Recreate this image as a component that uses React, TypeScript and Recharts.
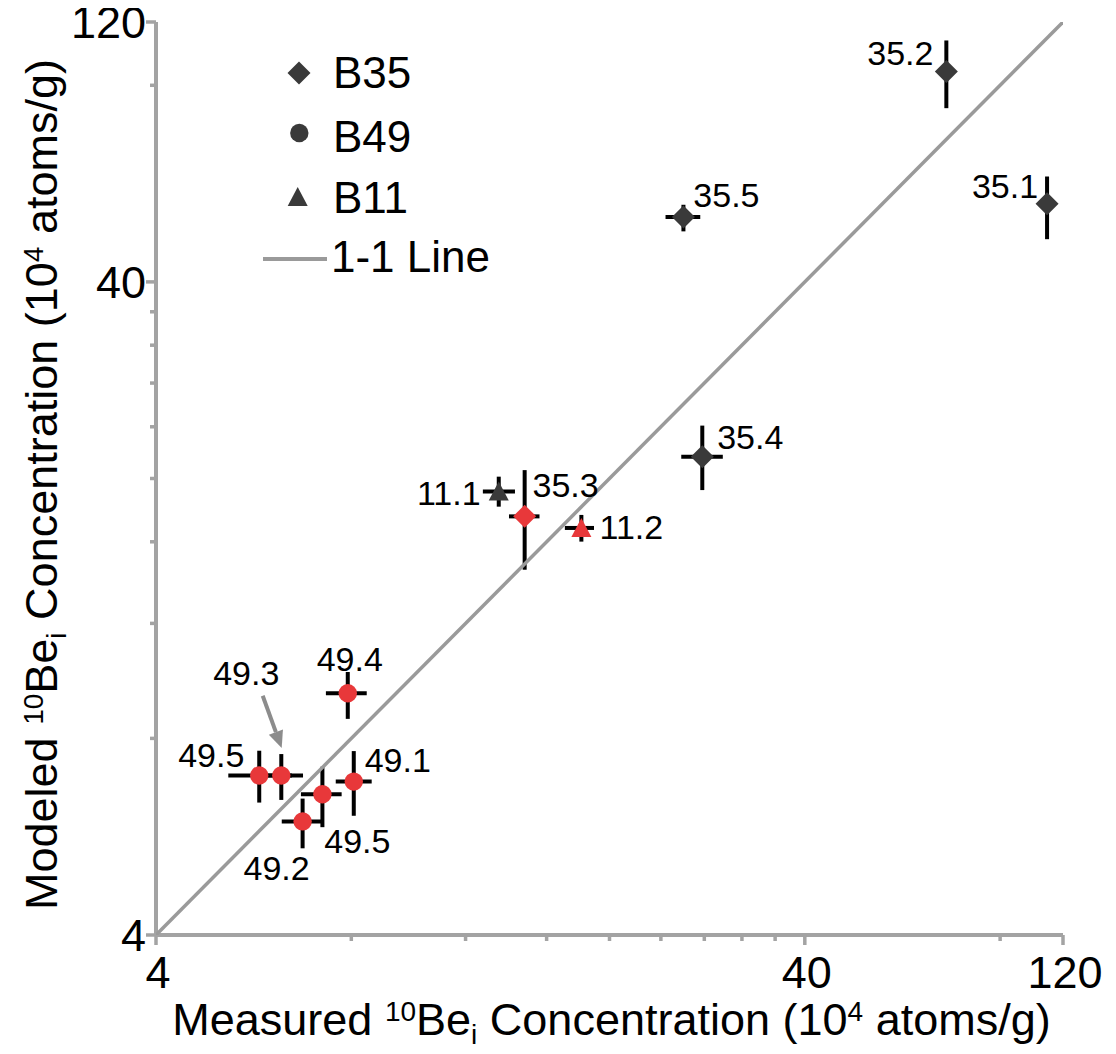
import React from "react";
import { ScatterChart, Scatter, XAxis, YAxis, ErrorBar, Legend, Label } from "recharts";

const FONT = '"Liberation Sans", Arial, Helvetica, sans-serif';
const DARK = "#3a3a3a";
const RED = "#e8383a";
const AXIS_GRAY = "#a3a3a3";
const LINE_GRAY = "#9a9a9a";

// B35 (diamonds)
const b35Labels = ["35.1", "35.2", "35.3", "35.4", "35.5"];
const b35Measured = [94.5, 66.1, 14.8, 27.8, 26.0];
const b35MeasuredLo = [92.6, 64.8, 14.0, 25.8, 24.4];
const b35MeasuredHi = [96.4, 67.4, 15.6, 29.9, 27.6];
const b35Modeled = [52.7, 84.0, 17.5, 21.6, 50.3];
const b35ModeledLo = [46.5, 73.8, 14.5, 19.2, 47.8];
const b35ModeledHi = [58.0, 93.7, 20.6, 24.1, 52.5];
const b35Highlight = [false, false, true, false, false];

// B49 (circles)
const b49Labels = ["49.1", "49.2", "49.3", "49.4", "49.5", "49.5"];
const b49Measured = [8.07, 6.73, 6.24, 7.9, 5.77, 7.22];
const b49MeasuredLo = [7.57, 6.25, 5.79, 7.31, 5.17, 6.69];
const b49MeasuredHi = [8.6, 7.26, 6.74, 8.45, 6.48, 7.73];
const b49Modeled = [6.87, 5.97, 7.02, 9.38, 7.02, 6.57];
const b49ModeledLo = [6.09, 5.43, 6.44, 8.57, 6.38, 5.85];
const b49ModeledHi = [7.65, 6.47, 7.57, 10.11, 7.66, 7.24];
const b49Highlight = [true, true, true, true, true, true];

// B11 (triangles)
const b11Labels = ["11.1", "11.2"];
const b11Measured = [13.5, 18.1];
const b11MeasuredLo = [12.76, 17.07];
const b11MeasuredHi = [14.3, 18.93];
const b11Modeled = [19.1, 16.8];
const b11ModeledLo = [18.11, 16.01];
const b11ModeledHi = [20.13, 17.59];
const b11Highlight = [false, true];

// 1-1 line end points
const oneToOne = [4, 100];

// axis ticks (log scale, Excel style minor ticks)
const axisTicks = [4, 8, 12, 16, 20, 24, 28, 32, 36, 40, 80, 100];
const majorTicks = [4, 40, 100];
const tickText: Record<number, string> = { 4: "4", 40: "40", 100: "120" };

// label placement: text centre relative to the point
const labelOffset: Record<string, [number, number]> = {
  "B35-0": [-42, -18],
  "B35-1": [-46, -19],
  "B35-2": [41, -32],
  "B35-3": [48, -20],
  "B35-4": [43, -22],
  "B49-0": [44, -22],
  "B49-1": [-26, 46],
  "B49-2": [-35, -103],
  "B49-3": [2, -34],
  "B49-4": [-48, -21],
  "B49-5": [35, 47],
  "B11-0": [-50, 1],
  "B11-1": [50, -1],
};
// pointer arrow for crowded label: start dx, dy -> tip dx, dy
const labelArrow: Record<string, [number, number, number, number]> = {
  "B49-2": [-18.6, -79.7, 0.4, -27.4],
};

type Row = {
  x: number;
  y: number;
  xErr: [number, number];
  yErr: [number, number];
  label: string;
  highlight: boolean;
  key: string;
};

const buildRows = (
  group: string,
  labels: string[],
  mx: number[],
  mxLo: number[],
  mxHi: number[],
  my: number[],
  myLo: number[],
  myHi: number[],
  hl: boolean[]
): Row[] =>
  labels.map((label, i) => ({
    x: mx[i],
    y: my[i],
    xErr: [mx[i] - mxLo[i], mxHi[i] - mx[i]],
    yErr: [my[i] - myLo[i], myHi[i] - my[i]],
    label,
    highlight: hl[i],
    key: `${group}-${i}`,
  }));

const b35Rows = buildRows("B35", b35Labels, b35Measured, b35MeasuredLo, b35MeasuredHi, b35Modeled, b35ModeledLo, b35ModeledHi, b35Highlight);
const b49Rows = buildRows("B49", b49Labels, b49Measured, b49MeasuredLo, b49MeasuredHi, b49Modeled, b49ModeledLo, b49ModeledHi, b49Highlight);
const b11Rows = buildRows("B11", b11Labels, b11Measured, b11MeasuredLo, b11MeasuredHi, b11Modeled, b11ModeledLo, b11ModeledHi, b11Highlight);
const lineRows = oneToOne.map((v) => ({ x: v, y: v }));

type Kind = "diamond" | "circle" | "triangle";

const Marker = ({ kind, cx, cy, fill }: { kind: Kind; cx: number; cy: number; fill: string }) => {
  if (kind === "diamond") {
    const h = 11.5;
    return <polygon points={`${cx},${cy - h} ${cx + h},${cy} ${cx},${cy + h} ${cx - h},${cy}`} fill={fill} />;
  }
  if (kind === "circle") return <circle cx={cx} cy={cy} r={9.2} fill={fill} />;
  return <polygon points={`${cx},${cy - 10} ${cx + 10},${cy + 9} ${cx - 10},${cy + 9}`} fill={fill} />;
};

const LABEL_SIZE = 34;

const makeShape = (kind: Kind) => (props: any) => {
  const { cx, cy, payload } = props;
  if (cx == null || cy == null) return <g />;
  const row = payload as Row;
  const off = labelOffset[row.key] || [0, -30];
  const arrow = labelArrow[row.key];
  let arrowEl = null;
  if (arrow) {
    const [sx, sy, ex, ey] = arrow;
    const dx = ex - sx;
    const dy = ey - sy;
    const len = Math.sqrt(dx * dx + dy * dy);
    const ux = dx / len;
    const uy = dy / len;
    const head = 17;
    const hw = 7.5;
    const bx = cx + ex - ux * head;
    const by = cy + ey - uy * head;
    arrowEl = (
      <g>
        <line x1={cx + sx} y1={cy + sy} x2={bx} y2={by} stroke="#8c8c8c" strokeWidth={4} />
        <polygon
          points={`${cx + ex},${cy + ey} ${bx - uy * hw},${by + ux * hw} ${bx + uy * hw},${by - ux * hw}`}
          fill="#8c8c8c"
        />
      </g>
    );
  }
  return (
    <g>
      <Marker kind={kind} cx={cx} cy={cy} fill={row.highlight ? RED : DARK} />
      {arrowEl}
      <text
        x={cx + off[0]}
        y={cy + off[1] + LABEL_SIZE * 0.358}
        textAnchor="middle"
        fontSize={LABEL_SIZE}
        fontFamily={FONT}
        fill="#000"
      >
        {row.label}
      </text>
    </g>
  );
};

const noShape = () => <g />;

const XTick = (props: any) => {
  const { x, y, payload } = props;
  const v = payload.value;
  const major = majorTicks.includes(v);
  return (
    <g>
      <line x1={x} x2={x} y1={y} y2={y + (major ? 10 : 6)} stroke={AXIS_GRAY} strokeWidth={3.5} />
      {major && (
        <text x={x + 2} y={y + 53} textAnchor="middle" fontSize={45} fontFamily={FONT} fill="#000">
          {tickText[v]}
        </text>
      )}
    </g>
  );
};

const YTick = (props: any) => {
  const { x, y, payload } = props;
  const v = payload.value;
  const major = majorTicks.includes(v);
  return (
    <g>
      <line x1={x - (major ? 10 : 6)} x2={x} y1={y} y2={y} stroke={AXIS_GRAY} strokeWidth={3.5} />
      {major && (
        <text x={x - 10} y={y + 16} textAnchor="end" fontSize={45} fontFamily={FONT} fill="#000">
          {tickText[v]}
        </text>
      )}
    </g>
  );
};

const TitleText = ({ head }: { head: string }) => (
  <>
    <tspan>{head} </tspan>
    <tspan fontSize={28} dy={-14}>10</tspan>
    <tspan dy={14}>Be</tspan>
    <tspan fontSize={28} dy={9}>i</tspan>
    <tspan dy={-9}> Concentration (10</tspan>
    <tspan fontSize={28} dy={-14}>4</tspan>
    <tspan dy={14}> atoms/g)</tspan>
  </>
);

const TITLE_SIZE = 45;

const XTitle = (props: any) => {
  const vb = props.viewBox || { x: 148, y: 927, width: 907, height: 119 };
  return (
    <text
      x={vb.x + vb.width / 2 + 2}
      y={vb.y + 100}
      textAnchor="middle"
      fontSize={TITLE_SIZE}
      fontFamily={FONT}
      fill="#000"
    >
      <TitleText head="Measured" />
    </text>
  );
};

const YTitle = (props: any) => {
  const vb = props.viewBox || { x: 0, y: 14, width: 148, height: 913 };
  const cy = vb.y + vb.height / 2 + 6;
  return (
    <text
      transform={`translate(49,${cy}) rotate(-90)`}
      textAnchor="middle"
      fontSize={TITLE_SIZE}
      fontFamily={FONT}
      fill="#000"
    >
      <TitleText head="Modeled" />
    </text>
  );
};

const LegendBox = () => (
  <svg width={280} height={250} style={{ display: "block", overflow: "visible" }}>
    <g fontFamily={FONT} fontSize={44} fill="#000">
      <Marker kind="diamond" cx={51} cy={25} fill={DARK} />
      <text x={85} y={40}>B35</text>
      <Marker kind="circle" cx={51.3} cy={85} fill={DARK} />
      <text x={85} y={104}>B49</text>
      <Marker kind="triangle" cx={49.7} cy={149} fill={DARK} />
      <text x={85} y={165}>B11</text>
      <line x1={15} x2={79} y1={211} y2={211} stroke={LINE_GRAY} strokeWidth={4} />
      <text x={83} y={224}>1-1 Line</text>
    </g>
  </svg>
);

export default function App() {
  return (
    <div style={{ width: 1100, height: 1046 }}>
      <ScatterChart width={1100} height={1046} margin={{ top: 14, right: 45, bottom: 0, left: 0 }}>
        <XAxis
          type="number"
          dataKey="x"
          scale="log"
          domain={[4, 100]}
          allowDataOverflow
          ticks={axisTicks}
          interval={0}
          tick={<XTick />}
          tickSize={0}
          tickMargin={0}
          tickLine={false}
          axisLine={{ stroke: AXIS_GRAY, strokeWidth: 4 }}
          height={119}
        >
          <Label content={(p: any) => <XTitle {...p} />} />
        </XAxis>
        <YAxis
          type="number"
          dataKey="y"
          scale="log"
          domain={[4, 100]}
          allowDataOverflow
          ticks={axisTicks}
          interval={0}
          tick={<YTick />}
          tickSize={0}
          tickMargin={0}
          tickLine={false}
          axisLine={{ stroke: AXIS_GRAY, strokeWidth: 4 }}
          width={148}
        >
          <Label content={(p: any) => <YTitle {...p} />} />
        </YAxis>
        <Legend
          layout="vertical"
          align="center"
          verticalAlign="middle"
          content={() => <LegendBox />}
          wrapperStyle={{ left: 240, top: 40, width: 280, height: 250 }}
        />
        <Scatter
          name="1-1 Line"
          data={lineRows}
          line={{ stroke: LINE_GRAY, strokeWidth: 3.5 }}
          shape={noShape}
          legendType="none"
          isAnimationActive={false}
        />
        <Scatter name="B49" data={b49Rows} shape={makeShape("circle")} isAnimationActive={false}>
          <ErrorBar dataKey="xErr" direction="x" width={0} stroke="#000" strokeWidth={4} isAnimationActive={false} />
          <ErrorBar dataKey="yErr" direction="y" width={0} stroke="#000" strokeWidth={4} isAnimationActive={false} />
        </Scatter>
        <Scatter name="B11" data={b11Rows} shape={makeShape("triangle")} isAnimationActive={false}>
          <ErrorBar dataKey="xErr" direction="x" width={0} stroke="#000" strokeWidth={4} isAnimationActive={false} />
          <ErrorBar dataKey="yErr" direction="y" width={0} stroke="#000" strokeWidth={4} isAnimationActive={false} />
        </Scatter>
        <Scatter name="B35" data={b35Rows} shape={makeShape("diamond")} isAnimationActive={false}>
          <ErrorBar dataKey="xErr" direction="x" width={0} stroke="#000" strokeWidth={4} isAnimationActive={false} />
          <ErrorBar dataKey="yErr" direction="y" width={0} stroke="#000" strokeWidth={4} isAnimationActive={false} />
        </Scatter>
      </ScatterChart>
    </div>
  );
}
